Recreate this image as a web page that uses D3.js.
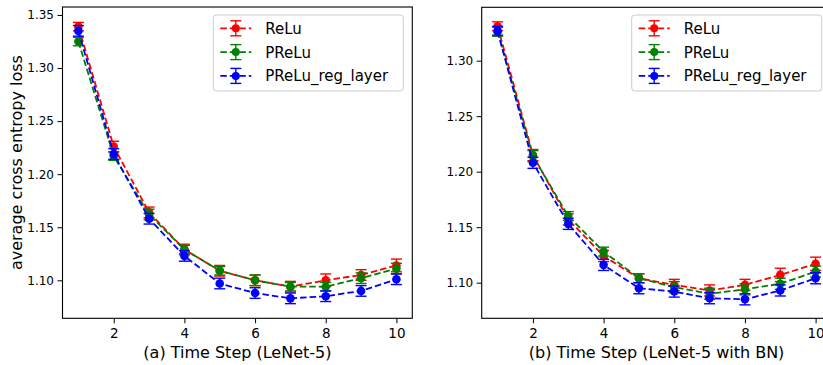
<!DOCTYPE html>
<html><head><meta charset="utf-8">
<script src="https://cdn.jsdelivr.net/npm/d3@7/dist/d3.min.js"></script>
<style>
body{margin:0;background:#fff;}
svg{display:block;font-family:"DejaVu Sans",sans-serif;}
</style></head>
<body><svg id="chart" width="823" height="365"></svg>
<script>
const timeSteps = [1,2,3,4,5,6,7,8,9,10];
const seriesNames = ["ReLu","PReLu","PReLu_reg_layer"];
const seriesColors = ["#ff0000","#008000","#0000ff"];
const xTicks = [2,4,6,8,10];
const yTicksA = [1.10,1.15,1.20,1.25,1.30,1.35];
const yTicksB = [1.10,1.15,1.20,1.25,1.30];

// (a) LeNet-5
const reluA  = [1.339,1.226,1.164,1.129,1.109,1.100,1.094,1.100,1.105,1.114];
const preluA = [1.325,1.217,1.162,1.129,1.109,1.100,1.094,1.094,1.102,1.111];
const regA   = [1.335,1.219,1.158,1.123,1.097,1.088,1.083,1.085,1.090,1.101];
const reluAErr  = [0.004,0.005,0.005,0.005,0.005,0.005,0.005,0.006,0.005,0.006];
const preluAErr = [0.004,0.004,0.005,0.004,0.004,0.005,0.004,0.004,0.005,0.005];
const regAErr   = [0.005,0.005,0.005,0.005,0.005,0.005,0.005,0.005,0.005,0.005];

// (b) LeNet-5 with BN
const reluB  = [1.331,1.215,1.157,1.124,1.104,1.098,1.093,1.098,1.107,1.117];
const preluB = [1.326,1.214,1.160,1.128,1.104,1.096,1.090,1.094,1.099,1.110];
const regB   = [1.327,1.208,1.153,1.116,1.095,1.092,1.086,1.085,1.093,1.104];
const reluBErr  = [0.004,0.005,0.005,0.005,0.004,0.005,0.005,0.005,0.006,0.006];
const preluBErr = [0.004,0.005,0.004,0.004,0.004,0.005,0.005,0.005,0.005,0.005];
const regBErr   = [0.004,0.005,0.005,0.005,0.005,0.005,0.005,0.005,0.005,0.005];

const svg = d3.select("#chart");

function panel(cfg){
  const x = d3.scaleLinear().domain([0.55,10.45]).range([cfg.left,cfg.right]);
  const y = d3.scaleLinear().domain(cfg.yDomain).range([cfg.bottom,cfg.top]);
  const g = svg.append("g");

  const xa = g.append("g").attr("transform",`translate(0,${cfg.bottom})`)
    .call(d3.axisBottom(x).tickValues(xTicks).tickFormat(d3.format("d")).tickSize(5).tickPadding(5));
  const ya = g.append("g").attr("transform",`translate(${cfg.left},0)`)
    .call(d3.axisLeft(y).tickValues(cfg.yTicks).tickFormat(d3.format(".2f")).tickSize(5).tickPadding(3.5));
  [xa,ya].forEach(a=>{
    a.select(".domain").remove();
    a.selectAll("line").attr("stroke","#000").attr("stroke-width",1);
    a.selectAll("text").attr("fill","#000").attr("font-family","DejaVu Sans");
  });
  xa.selectAll("text").attr("font-size",13.5);
  ya.selectAll("text").attr("font-size",12);

  const series = cfg.series;
  series.forEach((s,i)=>{
    const col = seriesColors[i];
    const sg = g.append("g");
    const line = d3.line().x((d,j)=>x(timeSteps[j])).y(d=>y(d));
    sg.append("path").datum(s.v).attr("d",line).attr("fill","none")
      .attr("stroke",col).attr("stroke-width",1.8).attr("stroke-dasharray","6.5,3");
    s.v.forEach((v,j)=>{
      const cx = x(timeSteps[j]);
      const y1 = y(v - s.e[j]), y2 = y(v + s.e[j]);
      sg.append("line").attr("x1",cx).attr("x2",cx).attr("y1",y1).attr("y2",y2).attr("stroke",col).attr("stroke-width",1.4);
      [y1,y2].forEach(yy=>sg.append("line").attr("x1",cx-5.5).attr("x2",cx+5.5).attr("y1",yy).attr("y2",yy)
        .attr("stroke",col).attr("stroke-width",1.4));
      sg.append("circle").attr("cx",cx).attr("cy",y(v)).attr("r",4.3).attr("fill",col);
    });
  });

  // frame
  g.append("rect").attr("x",cfg.left).attr("y",cfg.top).attr("width",cfg.right-cfg.left).attr("height",cfg.bottom-cfg.top)
    .attr("fill","none").attr("stroke","#000").attr("stroke-width",1.1);

  // legend
  const lg = g.append("g").attr("transform",`translate(${cfg.legX},15)`);
  lg.append("rect").attr("x",0).attr("y",0).attr("width",190).attr("height",76).attr("rx",3)
    .attr("fill","#fff").attr("fill-opacity",0.8).attr("stroke","#cccccc").attr("stroke-width",1);
  seriesNames.forEach((n,i)=>{
    const yy = 13.3 + i*23.8, col = seriesColors[i];
    lg.append("line").attr("x1",7).attr("x2",38).attr("y1",yy).attr("y2",yy).attr("stroke",col)
      .attr("stroke-width",1.8).attr("stroke-dasharray","6.5,3");
    lg.append("line").attr("x1",22.5).attr("x2",22.5).attr("y1",yy-7.5).attr("y2",yy+7.5).attr("stroke",col).attr("stroke-width",1.4);
    [yy-7.5,yy+7.5].forEach(v=>lg.append("line").attr("x1",17).attr("x2",28).attr("y1",v).attr("y2",v).attr("stroke",col).attr("stroke-width",1.4));
    lg.append("circle").attr("cx",22.5).attr("cy",yy).attr("r",4).attr("fill",col);
    lg.append("text").attr("x",52).attr("y",yy+5.4).attr("font-size",15).attr("fill","#000").text(n);
  });

  g.append("text").attr("x",(cfg.left+cfg.right)/2).attr("y",358).attr("text-anchor","middle")
    .attr("font-size",16).attr("fill","#000").text(cfg.xLabel);
  return g;
}

panel({left:62.5,right:412.3,top:7,bottom:318.3,yDomain:[1.0642,1.3575],yTicks:yTicksA,legX:213.3,
  xLabel:"(a) Time Step (LeNet-5)",
  series:[{v:reluA,e:reluAErr},{v:preluA,e:preluAErr},{v:regA,e:regAErr}]});
panel({left:481.7,right:831.5,top:7.3,bottom:318.3,yDomain:[1.0679,1.3481],yTicks:yTicksB,legX:631.7,
  xLabel:"(b) Time Step (LeNet-5 with BN)",
  series:[{v:reluB,e:reluBErr},{v:preluB,e:preluBErr},{v:regB,e:regBErr}]});

svg.append("text").attr("transform","translate(22,162.6) rotate(-90)").attr("text-anchor","middle")
  .attr("font-size",16).attr("fill","#000").text("average cross entropy loss");
</script></body></html>
